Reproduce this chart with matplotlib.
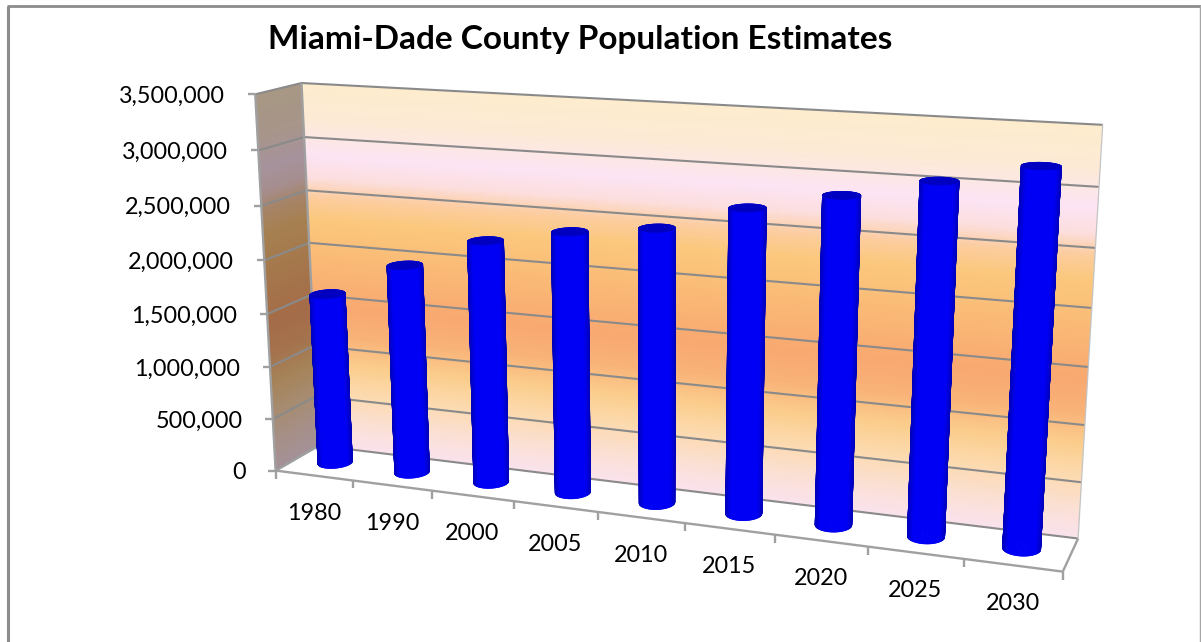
import numpy as np
import matplotlib
matplotlib.use("Agg")
import matplotlib.pyplot as plt
from matplotlib.collections import PolyCollection, LineCollection
from matplotlib.patches import Polygon

title = "Miami-Dade County Population Estimates"
years = ["1980", "1990", "2000", "2005", "2010", "2015", "2020", "2025", "2030"]
population = [1630000, 1965000, 2250000, 2390000, 2480000, 2710000, 2870000, 3040000, 3210000]
y_ticks = [0, 500000, 1000000, 1500000, 2000000, 2500000, 3000000, 3500000]
y_max = 3500000

W, H = 1201, 642
FONT = "Lato"

# (category position, value, depth) -> picture pixel: camera calibrated on the chart's box corners
cal_box = [(0, 0, 0), (0, 3.5e6, 0), (0, 0, 1), (0, 3.5e6, 1), (9, 3.5e6, 1), (9, 0, 1), (9, 0, 0),
           (1, 0, 0), (8, 0, 0), (9, 3e6, 1), (9, 2.5e6, 1), (9, 2e6, 1), (9, 1.5e6, 1), (9, 1e6, 1),
           (9, 5e5, 1), (0, 3e6, 1), (0, 2.5e6, 1), (0, 2e6, 1), (0, 3e6, 0), (0, 2e6, 0), (0, 1e6, 0), (0, 5e5, 0)]
cal_px = [(275, 470), (253, 95), (317, 447), (302, 83), (1103, 125), (1078, 537), (1063, 572),
          (352, 481), (963, 560), (1099, 187), (1095, 248), (1092, 308), (1088, 367), (1085, 425),
          (1082, 482), (305, 137), (307, 191), (309, 242), (257, 150), (266, 260), (272, 366), (274, 419)]


def fit_camera():
    A, b = [], []
    for (u, v, w), (x, y) in zip(cal_box, cal_px):
        p = [u / 9, v / y_max, w, 1]
        A.append(p + [0, 0, 0, 0] + [-x * q for q in p[:3]])
        b.append(x)
        A.append([0, 0, 0, 0] + p + [-y * q for q in p[:3]])
        b.append(y)
    s = np.linalg.lstsq(np.array(A, float), np.array(b, float), rcond=None)[0]
    return np.append(s, 1).reshape(3, 4)


CAM = fit_camera()


def proj(u, v, w):
    u, v, w = np.broadcast_arrays(np.asarray(u, float), np.asarray(v, float), np.asarray(w, float))
    h = np.stack([u / 9, v / y_max, w, np.ones_like(u)], -1) @ CAM.T
    return h[..., 0] / h[..., 2], h[..., 1] / h[..., 2]


# wall gradient stops: fraction from the top of the wall, colour
stops_f = [0.0, 0.10, 0.19, 0.25, 0.30, 0.36, 0.47, 0.60, 0.68, 0.76, 0.84, 0.93, 1.0]
stops_c = np.array([(253, 236, 205), (253, 234, 214), (252, 228, 244), (252, 222, 222), (252, 205, 160),
                    (251, 200, 125), (250, 186, 118), (248, 168, 112), (248, 178, 120), (251, 205, 140),
                    (252, 218, 175), (251, 224, 215), (250, 226, 238)], float) / 255


def wall_colors(v):
    f = 1 - v / y_max
    return np.stack([np.interp(f, stops_f, stops_c[:, i]) for i in range(3)], -1)


fig = plt.figure(figsize=(W / 100, H / 100), dpi=100, facecolor="white")
ax = fig.add_axes([0, 0, 1, 1])
ax.set_xlim(0, W)
ax.set_ylim(H, 0)
ax.axis("off")

# frame: top, left, right sides only
ax.plot([7.5, 7.5], [H, 6], color="#8c8c8c", lw=2.2, solid_capstyle="butt", zorder=1)
ax.plot([7, W], [6, 6], color="#8c8c8c", lw=2.0, solid_capstyle="butt", zorder=1)
ax.plot([W - 1, W - 1], [6, H], color="#a6a6a6", lw=1.0, zorder=1)

# back wall
ug, vg = np.linspace(0, 9, 61), np.linspace(0, y_max, 401)
U, V = np.meshgrid(ug, vg)
X, Y = proj(U, V, 1.0)
vc = (vg[:-1] + vg[1:]) / 2
Cb = np.repeat(wall_colors(vc)[:, None, :], len(ug) - 1, axis=1)
ax.pcolormesh(X, Y, Cb, shading="flat", zorder=2, rasterized=False)

# left wall: same fill, darkened
wg = np.linspace(0, 1, 31)
Wg, V2 = np.meshgrid(wg, vg)
X, Y = proj(0.0, V2, Wg)
Cl = np.repeat((wall_colors(vc) * np.array([0.66, 0.64, 0.64]))[:, None, :], len(wg) - 1, axis=1)
ax.pcolormesh(X, Y, Cl, shading="flat", zorder=2)

GRID = "#8a8a8a"
EDGE = "#a0a0a0"
grid_segs = []
for t in y_ticks:
    x0, y0 = proj(0, t, 0)
    x1, y1 = proj(0, t, 1)
    x2, y2 = proj(9, t, 1)
    grid_segs.append([(x0, y0), (x1, y1), (x2, y2)])
ax.add_collection(LineCollection(grid_segs, colors=GRID, linewidths=1.5, zorder=3))

# box edges
edges = [((0, 0, 0), (0, y_max, 0)), ((0, 0, 0), (9, 0, 0)), ((9, 0, 0), (9, 0, 1)), ((0, 0, 0), (0, 0, 1)),
         ((0, 0, 1), (0, y_max, 1))]
segs = [[proj(*a), proj(*b)] for a, b in edges]
ax.add_collection(LineCollection(segs, colors=EDGE, linewidths=1.7, zorder=3))
ax.add_collection(LineCollection([[proj(9, 0, 1), proj(9, y_max, 1)]], colors="#c4c4c4", linewidths=0.9, zorder=3))

# ticks
tick_segs = []
for t in y_ticks:
    x, y = proj(0, t, 0)
    tick_segs.append([(x - 7.5, y), (x, y)])
for i in range(len(years) + 1):
    x, y = proj(i, 0, 0)
    tick_segs.append([(x, y), (x, y + 8)])
ax.add_collection(LineCollection(tick_segs, colors=EDGE, linewidths=1.7, zorder=3))

# cylinders
R_U, R_W = 0.192, 0.22
theta = np.linspace(0, 2 * np.pi, 145)
for i, val in enumerate(population):
    cu = i + 0.5
    uu = cu + R_U * np.cos(theta)
    ww = 0.5 + R_W * np.sin(theta)
    bx, by = proj(uu, 0, ww)
    tx, ty = proj(uu, val, ww)
    polys, cols = [], []
    mids = (theta[:-1] + theta[1:]) / 2
    xmid = (bx[:-1] + bx[1:]) / 2
    pos = (xmid - bx.min()) / (bx.max() - bx.min())
    for k in np.argsort(-np.sin(mids)):
        polys.append([(bx[k], by[k]), (bx[k + 1], by[k + 1]), (tx[k + 1], ty[k + 1]), (tx[k], ty[k])])
        s = np.clip((1 - abs(2 * pos[k] - 1)) / 0.30, 0, 1)
        cols.append((0, 0, (185 + 60 * s) / 255))
    pc = PolyCollection(polys, facecolors=cols, edgecolors=cols, linewidths=0.5, zorder=4 + i * 0.01)
    ax.add_collection(pc)
    ax.add_patch(Polygon(np.column_stack([tx, ty]), closed=True, facecolor="#0000c0", edgecolor="#0000c0",
                         lw=0.5, zorder=4.5 + i * 0.01))

# tick labels
for t in y_ticks:
    x, y = proj(0, t, 0)
    ax.annotate(f"{t:,}", (x, y), xytext=(-30, 0), textcoords="offset pixels", ha="right", va="center_baseline",
                fontsize=16.8, family=FONT, color="black", zorder=6)
for i, yr in enumerate(years):
    x, y = proj(i + 0.5, 0, 0)
    ax.annotate(yr, (x, y), xytext=(0, -36), textcoords="offset pixels", ha="center", va="center_baseline",
                fontsize=16.8, family=FONT, color="black", zorder=6)

ax.text(580, 39, title, ha="center", va="center", fontsize=24, fontweight="bold", family=FONT, color="black", zorder=6)

fig.savefig("out.png", dpi=100, facecolor="white")
